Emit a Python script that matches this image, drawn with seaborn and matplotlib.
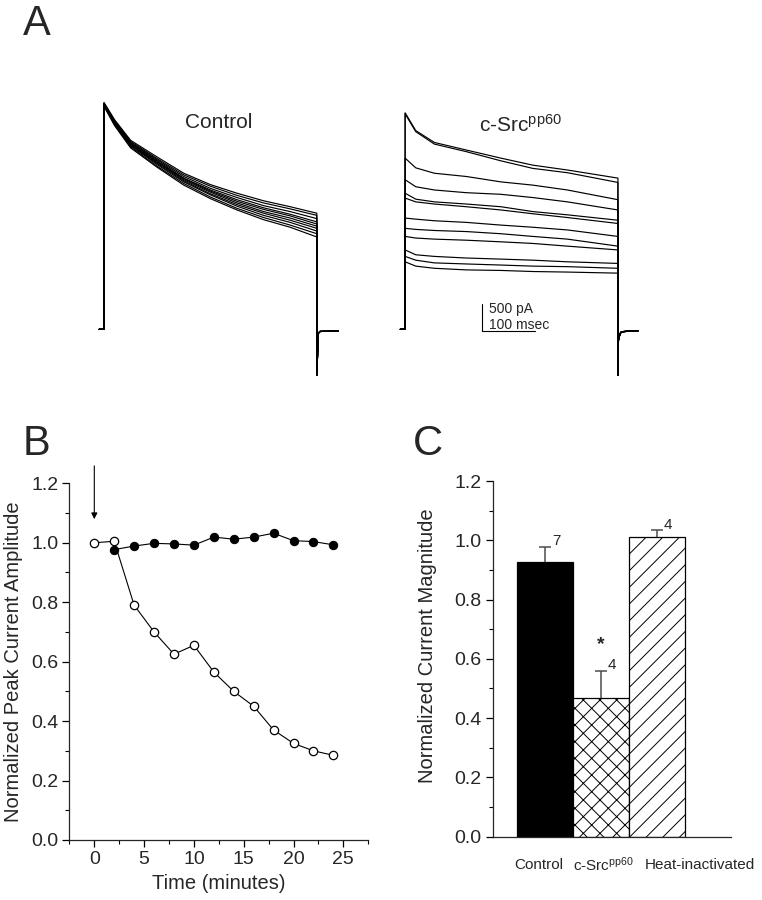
import pandas as pd
import matplotlib
matplotlib.use("Agg")
import matplotlib.pyplot as plt
import matplotlib.transforms as mtransforms
from matplotlib.ticker import MultipleLocator
import seaborn as sns

sns.set_style("ticks")
plt.rcParams['font.family'] = ['Liberation Sans', 'DejaVu Sans']
plt.rcParams['mathtext.fontset'] = 'custom'
plt.rcParams['mathtext.rm'] = 'Liberation Sans'
plt.rcParams['mathtext.it'] = 'Liberation Sans:italic'
plt.rcParams['hatch.linewidth'] = 0.7
plt.rcParams['axes.linewidth'] = 0.9

# %% panel A - current traces (pA vs msec)
ctrl_t = [0, 20, 50, 100, 150, 200, 250, 300, 350, 400]
ctrl_traces = [
    [4200, 3880, 3500, 3190, 2890, 2680, 2520, 2380, 2270, 2150],
    [4190, 3860, 3480, 3160, 2860, 2650, 2480, 2340, 2230, 2110],
    [4180, 3850, 3460, 3140, 2830, 2610, 2440, 2290, 2180, 2050],
    [4170, 3840, 3450, 3120, 2800, 2580, 2400, 2250, 2130, 1990],
    [4170, 3830, 3440, 3100, 2790, 2560, 2370, 2220, 2100, 1950],
    [4160, 3820, 3420, 3090, 2770, 2540, 2340, 2180, 2060, 1910],
    [4160, 3810, 3410, 3070, 2750, 2510, 2310, 2150, 2020, 1870],
    [4150, 3800, 3400, 3050, 2730, 2490, 2280, 2110, 1980, 1820],
    [4140, 3790, 3380, 3020, 2700, 2450, 2240, 2070, 1930, 1770],
    [4130, 3770, 3360, 3000, 2670, 2420, 2210, 2030, 1890, 1710],
]
src_t = [0, 20, 55, 115, 180, 240, 305, 400]
src_traces = [
    [4010, 3680, 3460, 3320, 3170, 3040, 2950, 2800],
    [3990, 3660, 3430, 3290, 3120, 2980, 2900, 2720],
    [3170, 2990, 2890, 2830, 2730, 2670, 2580, 2400],
    [2770, 2640, 2580, 2530, 2500, 2440, 2360, 2210],
    [2520, 2410, 2360, 2320, 2270, 2180, 2120, 2020],
    [2430, 2360, 2320, 2270, 2210, 2140, 2070, 1960],
    [2060, 2040, 2010, 1980, 1930, 1890, 1840, 1720],
    [1870, 1850, 1830, 1810, 1770, 1720, 1670, 1540],
    [1720, 1690, 1670, 1650, 1620, 1590, 1540, 1470],
    [1470, 1380, 1350, 1320, 1300, 1280, 1250, 1220],
    [1350, 1280, 1230, 1210, 1190, 1170, 1160, 1130],
    [1250, 1170, 1130, 1100, 1090, 1070, 1060, 1040],
]
pre_t = [-9, 0]
pre_i = [0, 0]
ctrl_tail_t = [400, 403, 406, 440]
ctrl_tail_i = [-850, -74, -40, -31]
src_tail_t = [400, 401, 404, 407, 438]
src_tail_i = [-850, -200, -80, -44, -26]

# %% panel B - normalized peak current vs time
b_time = [0, 2, 4, 6, 8, 10, 12, 14, 16, 18, 20, 22, 24]
b_src = [1.00, 1.005, 0.79, 0.70, 0.625, 0.655, 0.565, 0.50, 0.45, 0.37, 0.325, 0.30, 0.285]
b_ctrl_time = [2, 4, 6, 8, 10, 12, 14, 16, 18, 20, 22, 24]
b_ctrl = [0.977, 0.989, 0.998, 0.996, 0.992, 1.019, 1.012, 1.019, 1.032, 1.007, 1.004, 0.993]

# %% panel C - bar summary
c_groups = ["Control", "c-Src$^{\\mathrm{pp60}}$", "Heat-inactivated"]
c_means = [0.928, 0.468, 1.010]
c_sems = [0.050, 0.091, 0.024]
c_n = [7, 4, 4]
c_hatch = ['', 'xx', '//']
c_fill = ['black', 'white', 'white']

W, H = 762, 900
fig = plt.figure(figsize=(W / 100, H / 100), dpi=100)


def frame(left, top, right, bottom):
    return [left / W, 1 - bottom / H, (right - left) / W, (bottom - top) / H]


# ---------- A
SRC_OFFSET = 566
rows = []
for k, tr in enumerate(ctrl_traces):
    for t, i in zip(pre_t + ctrl_t + ctrl_tail_t, pre_i + tr + ctrl_tail_i):
        rows.append(("c%d" % k, t, i))
for k, tr in enumerate(src_traces):
    for t, i in zip(pre_t + src_t + src_tail_t, pre_i + tr + src_tail_i):
        rows.append(("s%d" % k, t + SRC_OFFSET, i))
df_a = pd.DataFrame(rows, columns=["trace", "t", "i"])

ax_a = fig.add_axes(frame(90, 95, 650, 390))
sns.lineplot(data=df_a, x="t", y="i", units="trace", estimator=None, sort=False,
             color="black", linewidth=0.85, legend=False, ax=ax_a)
ax_a.set_xlim(-26.3, 1026.3)
ax_a.set_ylim(-1124, 4339)
ax_a.axis("off")

# scale bar: 500 pA / 100 msec
SB_X, SB_Y = 710, -31
ax_a.plot([SB_X, SB_X, SB_X + 100], [SB_Y + 500, SB_Y, SB_Y], color="black", lw=0.8)
ax_a.text(SB_X + 14, 302, "500 pA", fontsize=10, va="baseline", ha="left")
ax_a.text(SB_X + 14, 4, "100 msec", fontsize=10, va="baseline", ha="left")
ax_a.text(216, 3722, "Control", fontsize=15, ha="center", va="baseline")
ax_a.text(782, 3660, "c-Src$^{\\mathrm{pp60}}$", fontsize=15, ha="center", va="baseline")

# ---------- B
ax_b = fig.add_axes(frame(69.4, 483.3, 368.2, 840))
sns.lineplot(x=b_time, y=b_src, ax=ax_b, color="black", lw=0.8, marker="o",
             markersize=6, markerfacecolor="white", markeredgecolor="black",
             markeredgewidth=0.9)
sns.lineplot(x=b_ctrl_time, y=b_ctrl, ax=ax_b, color="black", lw=0.8, marker="o",
             markersize=6, markerfacecolor="black", markeredgecolor="black")
ax_b.annotate("", xy=(0, 1.07), xytext=(0, 1.268),
              arrowprops=dict(arrowstyle="-|>", color="black", lw=0.8, mutation_scale=9),
              annotation_clip=False)
ax_b.set_xlim(-2.5, 27.5)
ax_b.set_ylim(0, 1.2)
ax_b.set_xticks([0, 5, 10, 15, 20, 25])
ax_b.set_yticks([0, 0.2, 0.4, 0.6, 0.8, 1.0, 1.2])
ax_b.xaxis.set_minor_locator(MultipleLocator(2.5))
ax_b.yaxis.set_minor_locator(MultipleLocator(0.1))
ax_b.set_xlabel("Time (minutes)", fontsize=14.5)
ax_b.set_ylabel("Normalized Peak Current Amplitude", fontsize=14.5)
ax_b.yaxis.set_label_coords(-0.155, 0.5)

# ---------- C
ax_c = fig.add_axes(frame(492.7, 481, 731, 836.7))
sns.barplot(x=c_groups, y=c_means, hue=c_groups, palette=c_fill, width=1.0,
            edgecolor="black", linewidth=0.9, errorbar=None, legend=False, ax=ax_c)
for patch, h in zip(ax_c.patches, c_hatch):
    patch.set_hatch(h)
pos = list(range(len(c_groups)))
eb = ax_c.errorbar(pos, c_means, yerr=[[0] * len(c_sems), c_sems], fmt="none",
                   ecolor="0.3", elinewidth=1.1, capsize=4, capthick=1.1)
eb[1][0].set_visible(False)  # no cap at bar top
for x, m, s, n in zip(pos, c_means, c_sems, c_n):
    ax_c.text(x + 0.2, m + s - 0.005, str(n), fontsize=11, ha="center", va="bottom")
ax_c.text(1.0, c_means[1] + c_sems[1] + 0.088, "*", fontsize=14, fontweight="bold",
          ha="center", va="center")
trans = mtransforms.blended_transform_factory(ax_c.transData, ax_c.transAxes)
for x, lab in zip([-0.11, 1.05, 2.77], c_groups):
    ax_c.text(x, -0.08, lab, transform=trans, fontsize=11, ha="center", va="center")
ax_c.set_xlim(-0.93, 3.32)
ax_c.set_ylim(0, 1.2)
ax_c.set_xticks([])
ax_c.set_xlabel("")
ax_c.set_yticks([0, 0.2, 0.4, 0.6, 0.8, 1.0, 1.2])
ax_c.yaxis.set_minor_locator(MultipleLocator(0.1))
ax_c.set_ylabel("Normalized Current Magnitude", fontsize=14.5)
ax_c.yaxis.set_label_coords(-0.234, 0.536)

for ax in (ax_b, ax_c):
    sns.despine(ax=ax)
    ax.yaxis.set_major_formatter(matplotlib.ticker.FormatStrFormatter("%.1f"))
    ax.tick_params(which="major", direction="out", length=5, width=0.9,
                   labelsize=14, pad=3, color="black")
    ax.tick_params(which="minor", direction="out", length=3, width=0.8, color="black")
ax_c.tick_params(axis="x", which="both", length=0)

# panel letters
fig.text(23 / W, 1 - 35 / H, "A", fontsize=30, va="baseline", ha="left")
fig.text(23 / W, 1 - 455 / H, "B", fontsize=30, va="baseline", ha="left")
fig.text(413 / W, 1 - 455 / H, "C", fontsize=30, va="baseline", ha="left")

fig.savefig("out.png", dpi=100)
